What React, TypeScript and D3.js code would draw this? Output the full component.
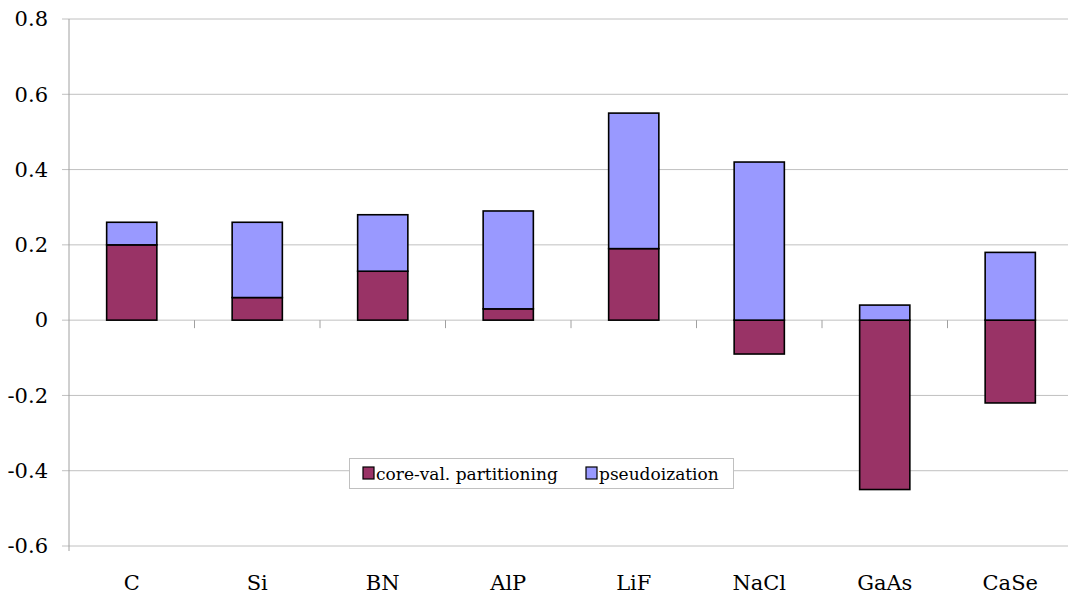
import React from "react";
import * as d3 from "d3";

const categories = ["C", "Si", "BN", "AlP", "LiF", "NaCl", "GaAs", "CaSe"];
const coreVal = [0.2, 0.06, 0.13, 0.03, 0.19, -0.09, -0.45, -0.22];
const pseudo = [0.06, 0.2, 0.15, 0.26, 0.36, 0.42, 0.04, 0.18];
const yTicks = [-0.6, -0.4, -0.2, 0, 0.2, 0.4, 0.6, 0.8];
const seriesNames = ["core-val. partitioning", "pseudoization"];
const colors = ["#993366", "#9999FF"];

export default function App() {
  const W = 1068, H = 595;
  const left = 69, right = 1073, top = 19, bottom = 546;
  const x = d3.scaleBand<string>().domain(categories).range([left, right]).paddingInner(0.6).paddingOuter(0.3);
  const xb = d3.scaleBand<string>().domain(categories).range([left, right]);
  const y = d3.scaleLinear().domain([-0.6, 0.8]).range([bottom, top]);
  const font = "'DejaVu Serif', serif";
  const fmt = (t: number) => (t === 0 ? "0" : d3.format(".1f")(t).replace("\u2212", "-"));

  const rects: any[] = [];
  categories.forEach((c, i) => {
    const cv = coreVal[i];
    const pv = pseudo[i];
    const bx = x(c)!;
    const bw = x.bandwidth();
    rects.push({ key: c + "core", x: bx, w: bw, y0: Math.min(0, cv), y1: Math.max(0, cv), color: colors[0] });
    const base = cv > 0 ? cv : 0;
    rects.push({ key: c + "ps", x: bx, w: bw, y0: base, y1: base + pv, color: colors[1] });
  });

  return (
    <svg width={W} height={H} style={{ position: "absolute", left: 0, top: 0, fontFamily: font }}>
      <rect x={0} y={0} width={W} height={H} fill="#fff" />
      {yTicks.map((t) => (
        <g key={t}>
          <line x1={62} x2={W} y1={y(t)} y2={y(t)} stroke="#c0c0c0" strokeWidth={1} />
          <text x={48} y={y(t)} dy="0.35em" textAnchor="end" style={{ fontFamily: font }} fontSize={21} fill="#000">
            {fmt(t)}
          </text>
        </g>
      ))}
      <line x1={left} x2={left} y1={top} y2={bottom + 5} stroke="#a0a0a0" strokeWidth={1} />
      {categories.map((c) => (
        <line key={c + "tick"} x1={xb(c)! + xb.bandwidth()} x2={xb(c)! + xb.bandwidth()} y1={y(0)} y2={y(0) + 8} stroke="#a0a0a0" strokeWidth={1} />
      ))}
      {rects.map((r) => (
        <rect key={r.key} x={r.x} y={y(r.y1)} width={r.w} height={y(r.y0) - y(r.y1)} fill={r.color} stroke="#000" strokeWidth={1.6} />
      ))}
      {categories.map((c) => (
        <text key={c + "lbl"} x={xb(c)! + xb.bandwidth() / 2} y={590} textAnchor="middle" style={{ fontFamily: font }} fontSize={21} fill="#000">
          {c}
        </text>
      ))}
      <g>
        <rect x={349.5} y={458.5} width={384} height={30} fill="#fff" stroke="#c0c0c0" strokeWidth={1} />
        <rect x={363} y={467} width={11} height={12} fill={colors[0]} stroke="#000" strokeWidth={1.2} />
        <text x={376} y={480} style={{ fontFamily: font }} fontSize={17} fill="#000">{seriesNames[0]}</text>
        <rect x={586} y={467} width={11} height={12} fill={colors[1]} stroke="#000" strokeWidth={1.2} />
        <text x={599} y={480} style={{ fontFamily: font }} fontSize={17} fill="#000">{seriesNames[1]}</text>
      </g>
    </svg>
  );
}
